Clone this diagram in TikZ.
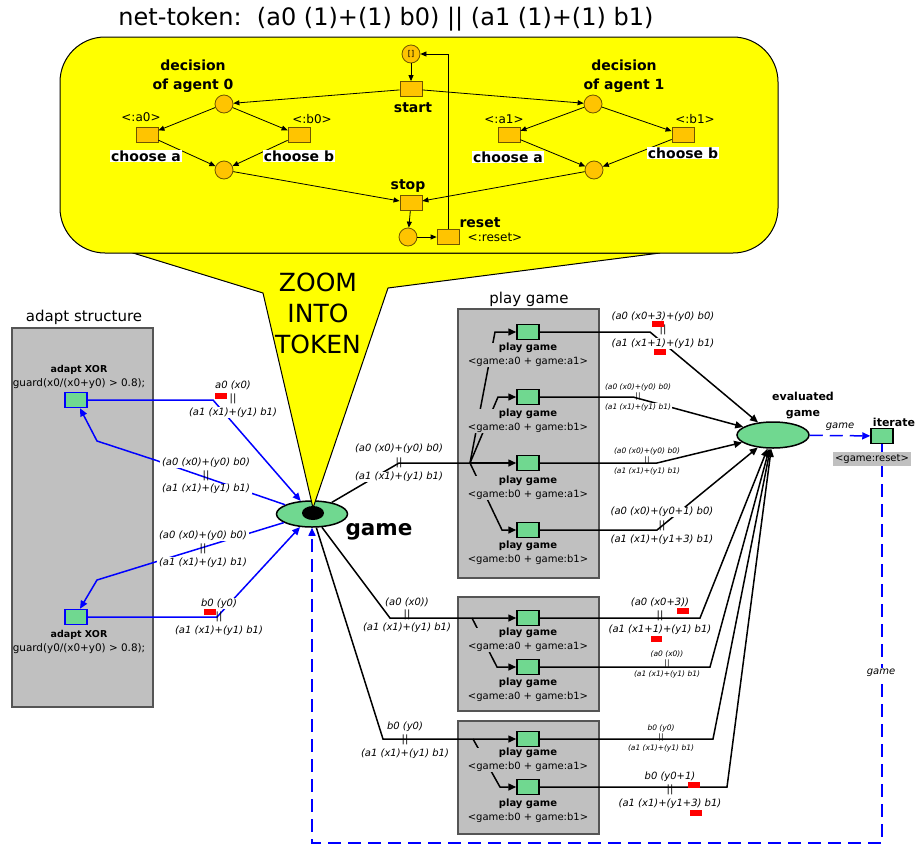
\documentclass[tikz,border=0pt]{standalone}
\usepackage{fontspec}
\setmainfont{DejaVu Sans}
\usetikzlibrary{arrows.meta, positioning, shapes.geometric}

\definecolor{tokfill}{RGB}{255,196,0}
\definecolor{tokline}{RGB}{110,85,0}
\definecolor{transgreen}{RGB}{112,216,144}
\definecolor{boxgray}{RGB}{192,192,192}
\definecolor{boxline}{RGB}{85,85,85}
\definecolor{zoomyellow}{RGB}{255,255,0}

\newcommand{\fsz}[2]{\fontsize{#1}{#2}\selectfont}

% arc inscription: name, style, x, y, gap, upper, lower
\newcommand{\inscr}[7]{%
  \node[#2] (#1up) at (#3,#4-#5) {#6};
  \node[#2, fill=none] (#1mid) at (#3,#4) {||};
  \node[#2] (#1low) at (#3,#4+#5) {#7};
}

\begin{document}
\begin{tikzpicture}[x=1pt, y=-1pt,
  place/.style={circle, draw=tokline, fill=tokfill, minimum size=18pt, inner sep=0pt, line width=0.8pt},
  toktrans/.style={rectangle, draw=tokline, fill=tokfill, minimum width=22pt, minimum height=15pt, inner sep=0pt, line width=0.8pt},
  trans/.style={rectangle, draw=black, fill=transgreen, minimum width=22pt, minimum height=15pt, inner sep=0pt, line width=1.5pt},
  xortrans/.style={trans, draw=blue},
  tokarc/.style={line width=0.8pt, -{Triangle[length=6pt, width=5pt]}},
  flow/.style={line width=1.5pt},
  flowto/.style={flow, -{Triangle[length=8pt, width=7pt]}},
  bluearc/.style={flowto, draw=blue},
  dashloop/.style={bluearc, dash pattern=on 13pt off 7pt},
  panel/.style={draw=boxline, fill=boxgray, line width=1.5pt},
  bigins/.style={font=\itshape\fsz{10}{12}, fill=white, inner xsep=2pt, inner ysep=0.5pt},
  smallins/.style={font=\itshape\fsz{7.5}{9}, fill=white, inner xsep=1.5pt, inner ysep=0.3pt},
  tokname/.style={font=\bfseries\fsz{14}{19}, align=center, inner sep=1pt},
  tokins/.style={font=\fsz{12}{14}, inner sep=1pt},
  pglabel/.style={font=\fsz{10}{14}, align=center, fill=boxgray, inner sep=0.5pt},
]
\useasboundingbox (0,0) rectangle (917,846);

% === Panels
\node[font=\fsz{15}{18}] (adapttitle) at (84,317) {adapt structure};
\draw[panel] (12,328) rectangle (153,707);
\node[font=\fsz{15}{18}] (playtitle) at (529,299) {play game};
\draw[panel] (458,309) rectangle (599,578);
\draw[panel] (458,597) rectangle (599,711);
\draw[panel] (458,721) rectangle (599,834);

% === Transitions and places
\node[xortrans] (xorA) at (76,400) {};
\node[xortrans] (xorB) at (76,617) {};
\node[trans] (gA1) at (528,332) {};
\node[trans] (gA2) at (528,397) {};
\node[trans] (gA3) at (528,463) {};
\node[trans] (gA4) at (528,530) {};
\node[trans] (gB1) at (528,618) {};
\node[trans] (gB2) at (528,667) {};
\node[trans] (gC1) at (528,739) {};
\node[trans] (gC2) at (528,787) {};
\node[trans] (iter) at (882,436) {};
\node[ellipse, draw, fill=transgreen, line width=1.5pt, minimum width=71pt, minimum height=26pt, inner sep=0pt] (game) at (312,514) {};
\node[ellipse, draw, fill=transgreen, line width=1.5pt, minimum width=72pt, minimum height=26pt, inner sep=0pt] (eval) at (773,435) {};

% === Adapt arcs (blue)
\draw[bluearc] (xorA) -- (213,400) -- (game);
\draw[bluearc] (game) -- (155,460) -- (97,441) -- ([xshift=4pt]xorA.south);
\draw[bluearc] (game) -- (152,563) -- (97,580) -- ([xshift=4pt]xorB.north);
\draw[bluearc] (xorB) -- (217,617) -- (game);

% === game -> play game
\coordinate (fanA) at (470,463);
\coordinate (fanB) at (472,618);
\coordinate (fanC) at (473,739);
\draw[flow] (game) -- (399,463) -- (fanA);
\draw[flowto] (fanA) -- (495,332) -- (gA1);
\draw[flowto] (fanA) -- (498,397) -- (gA2);
\draw[flowto] (fanA) -- (gA3);
\draw[flowto] (fanA) -- (502,530) -- (gA4);
\draw[flowto] (game) -- (390,618) -- (gB1);
\draw[flowto] (fanB) -- (497,667) -- (gB2);
\draw[flowto] (game) -- (383,739) -- (gC1);
\draw[flowto] (fanC) -- (500,787) -- (gC2);

% === play game -> evaluated game
\draw[flowto] (gA1) -- (650,332) -- (eval);
\draw[flowto] (gA2) -- (633,397) -- (eval);
\draw[flowto] (gA3) -- (657,463) -- (eval);
\draw[flowto] (gA4) -- (657,530) -- (eval);
\draw[flowto] (gB1) -- (700,618) -- (eval);
\draw[flowto] (gB2) -- (710,667) -- (eval);
\draw[flowto] (gC1) -- (713,739) -- (eval);
\draw[flowto] (gC2) -- (727,787) -- (eval);

% === Iteration loop
\draw[dashloop] (eval) -- (iter) node[midway, above=1pt, font=\itshape\fsz{10}{12}] (evalout) {game};
\draw[dashloop] (iter) -- (iter |- 0,843) -| (game);
\node[font=\itshape\fsz{10}{12}, fill=white, inner sep=1pt] (looplbl) at (881,673) {game};

% Labels
\node[font=\fsz{10.4}{14}, align=center] (xorAlbl) at (79,377) {{\bfseries\fontsize{9.5}{14}\selectfont adapt XOR}\\guard(x0/(x0+y0) > 0.8);};
\node[font=\fsz{10.4}{14}, align=center] (xorBlbl) at (79,642) {{\bfseries\fontsize{9.5}{14}\selectfont adapt XOR}\\guard(y0/(x0+y0) > 0.8);};
\node[pglabel] (gA1lbl) at (528,355) {\textbf{play game}\\<game:a0 + game:a1>};
\node[pglabel] (gA2lbl) at (528,421) {\textbf{play game}\\<game:a0 + game:b1>};
\node[pglabel] (gA3lbl) at (528,488) {\textbf{play game}\\<game:b0 + game:a1>};
\node[pglabel] (gA4lbl) at (528,553) {\textbf{play game}\\<game:b0 + game:b1>};
\node[pglabel] (gB1lbl) at (528,640) {\textbf{play game}\\<game:a0 + game:a1>};
\node[pglabel] (gB2lbl) at (528,690) {\textbf{play game}\\<game:a0 + game:b1>};
\node[pglabel] (gC1lbl) at (528,760) {\textbf{play game}\\<game:b0 + game:a1>};
\node[pglabel] (gC2lbl) at (528,811) {\textbf{play game}\\<game:b0 + game:b1>};
\node[font=\bfseries\fsz{21.5}{24}] (gamelbl) at (379,532) {game};
\node[font=\bfseries\fsz{11}{16}, align=center] (evallbl) at (803,405) {evaluated\\game};
\node[font=\bfseries\fsz{11}{13}] (iterlbl) at (894,422) {iterate};
\node[font=\fsz{10}{12}, fill=boxgray, inner sep=2pt] (resetlbl) at (872,459) {<game:reset>};

% === Inscriptions
\inscr{insL1}{bigins}{233}{399}{13.5}{a0 (x0)}{(a1 (x1)+(y1) b1)}
\inscr{insL2}{bigins}{206}{476}{13}{(a0 (x0)+(y0) b0)}{(a1 (x1)+(y1) b1)}
\inscr{insL3}{bigins}{203}{549}{13.5}{(a0 (x0)+(y0) b0)}{(a1 (x1)+(y1) b1)}
\inscr{insL4}{bigins}{219}{617}{13.5}{b0 (y0)}{(a1 (x1)+(y1) b1)}
\inscr{insA}{bigins}{399}{463}{14}{(a0 (x0)+(y0) b0)}{(a1 (x1)+(y1) b1)}
\inscr{insB}{bigins}{407}{615}{13}{(a0 (x0))}{(a1 (x1)+(y1) b1)}
\inscr{insC}{bigins}{405}{740}{13.5}{b0 (y0)}{(a1 (x1)+(y1) b1)}
\inscr{insR1}{bigins}{663}{330}{13.5}{(a0 (x0+3)+(y0) b0)}{(a1 (x1+1)+(y1) b1)}
\inscr{insR2}{smallins}{638}{397}{10}{(a0 (x0)+(y0) b0)}{(a1 (x1)+(y1) b1)}
\inscr{insR3}{smallins}{647}{461}{10}{(a0 (x0)+(y0) b0)}{(a1 (x1)+(y1) b1)}
\inscr{insR4}{bigins}{662}{526}{14}{(a0 (x0)+(y0+1) b0)}{(a1 (x1)+(y1+3) b1)}
\inscr{insR5}{bigins}{660}{616}{13.5}{(a0 (x0+3))}{(a1 (x1+1)+(y1) b1)}
\inscr{insR6}{smallins}{667}{664}{10}{(a0 (x0))}{(a1 (x1)+(y1) b1)}
\inscr{insR7}{smallins}{661}{738}{10}{b0 (y0)}{(a1 (x1)+(y1) b1)}
\inscr{insR8}{bigins}{670}{790}{13.5}{b0 (y0+1)}{(a1 (x1)+(y1+3) b1)}

% Change markers
\fill[red] (215,393) rectangle (227,399);
\fill[red] (204,609) rectangle (216,615);
\fill[red] (652,321) rectangle (664,327);
\fill[red] (654,349) rectangle (666,355);
\fill[red] (677,608) rectangle (689,614);
\fill[red] (651,636) rectangle (662,642);
\fill[red] (688,782) rectangle (700,788);
\fill[red] (690,810) rectangle (702,816);

% === Zoom callout
\filldraw[fill=zoomyellow, line width=1pt] (133,253) -- (263,293) -- (313,508) -- (388,288) -- (660,253) -- cycle;
\filldraw[fill=zoomyellow, line width=1pt, rounded corners=45pt] (60,37) rectangle (778,253);
\node[font=\fsz{25}{31}, align=center] (zoomtxt) at (318,313) {ZOOM\\INTO\\TOKEN};
\node[ellipse, fill=black, minimum width=22pt, minimum height=14pt, inner sep=0pt] (gametok) at (313,513) {};
\node[font=\fsz{24}{28}] (title) at (386,19) {net-token:\ \ (a0 (1)+(1) b0) || (a1 (1)+(1) b1)};

% === Token net
\node[place] (pinit) at (411,54) {\fsz{8}{8}[]};
\node[toktrans] (start) at (411,89) {};
\node[place] (dec0) at (224,104) {};
\node[toktrans] (cha0) at (147,135) {};
\node[toktrans] (chb0) at (299,135) {};
\node[place] (join0) at (224,170) {};
\node[place] (dec1) at (593,104) {};
\node[toktrans] (cha1) at (509,135) {};
\node[toktrans] (chb1) at (683,135) {};
\node[place] (join1) at (594,170) {};
\node[toktrans] (stop) at (411,203) {};
\node[place] (done) at (408,237) {};
\node[toktrans] (reset) at (448,237) {};

\draw[tokarc] (pinit) -- (start);
\draw[tokarc] (start) -- (dec0);
\draw[tokarc] (start) -- (dec1);
\draw[tokarc] (dec0) -- (cha0);
\draw[tokarc] (dec0) -- (chb0);
\draw[tokarc] (cha0) -- (join0);
\draw[tokarc] (chb0) -- (join0);
\draw[tokarc] (dec1) -- (cha1);
\draw[tokarc] (dec1) -- (chb1);
\draw[tokarc] (cha1) -- (join1);
\draw[tokarc] (chb1) -- (join1);
\draw[tokarc] (join0) -- (stop);
\draw[tokarc] (join1) -- (stop);
\draw[tokarc] (stop) -- (done);
\draw[tokarc] (done) -- (reset);
\draw[tokarc] (reset) |- (pinit);

% Labels
\node[tokname] (startlbl) at (413,108) {start};
\node[tokname] (stoplbl) at (408,186) {stop};
\node[tokname] (resetname) at (480,223) {reset};
\node[tokins] (resetins) at (495,237) {<:reset>};
\node[tokname] (dec0lbl) at (193,76) {decision\\of agent 0};
\node[tokname] (dec1lbl) at (624,76) {decision\\of agent 1};
\node[tokins] (cha0ins) at (141,117) {<:a0>};
\node[tokins] (chb0ins) at (312,119) {<:b0>};
\node[tokins] (cha1ins) at (504,119) {<:a1>};
\node[tokins] (chb1ins) at (695,119) {<:b1>};
\node[tokname, fill=white] (cha0lbl) at (146,156) {choose a};
\node[tokname, fill=white] (chb0lbl) at (299,156) {choose b};
\node[tokname, fill=white] (cha1lbl) at (508,157) {choose a};
\node[tokname, fill=white] (chb1lbl) at (683,153) {choose b};

\end{tikzpicture}
\end{document}
